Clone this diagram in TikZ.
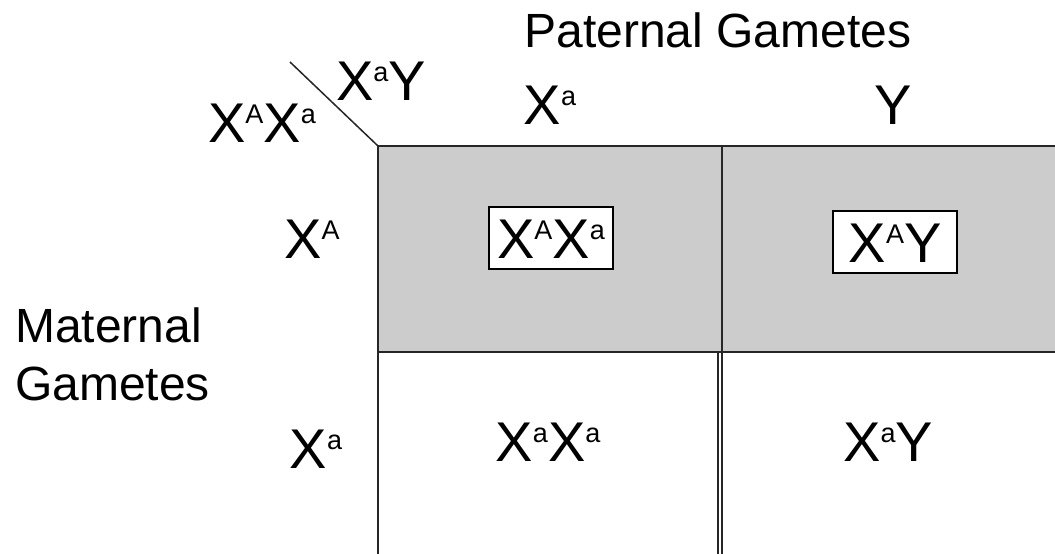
\documentclass[tikz,border=0pt]{standalone}
\usepackage{fontspec}
\setmainfont{Liberation Sans}
\usepackage{tikz}
\usetikzlibrary{calc}
\newcommand{\gsup}[1]{\raisebox{19pt}{\fontsize{27}{27}\selectfont #1}}
\tikzstyle{title} = [font=\fontsize{48}{58}\selectfont, inner sep=0pt, anchor=base]
\tikzstyle{allele} = [font=\fontsize{56}{60}\selectfont, inner sep=0pt, anchor=base]
\tikzstyle{boxed} = [rectangle, draw=black, line width=1.2pt, fill=white, font=\fontsize{56}{60}\selectfont, minimum width=124pt, minimum height=62pt, inner sep=0pt, text height=40pt, text depth=0pt]
\tikzstyle{grid} = [line width=2pt, black!85]
\begin{document}
\begin{tikzpicture}[x=1pt, y=-1pt]
  \useasboundingbox (0,0) rectangle (1055,554);
  % shaded first row
  \fill [black!20] (378,146) rectangle (1055,352);
  \coordinate (corner) at (378,146);
  \coordinate (slash) at (290,62);
  \draw [grid] (corner) -- (1055,146);
  \draw [grid] (corner) -- (378,554);
  \draw [grid] (378,352) -- (1055,352);
  \draw [grid] (722,146) -- (722,554);
  \draw [line width=1.5pt, black!85] (718,352) -- (718,554);
  \draw [line width=1.5pt, black!85] (slash) -- (corner);
  % headings
  \node (paternal) [title] at (718,47) {Paternal Gametes};
  \node (maternal) [title, anchor=base west, align=left] at (15,400) {Maternal\\[-0.1pt]Gametes};
  \node (father) [allele] at (381,100) {X\gsup{a}Y};
  \node (mother) [allele] at (262,142) {X\gsup{A}X\gsup{a}};
  \node (colXa) [allele] at (550,124) {X\gsup{a}};
  \node (colY) [allele] at (893,124) {Y};
  \node (rowXA) [allele] at (312,258) {X\gsup{A}};
  \node (rowXa) [allele] at (316,468) {X\gsup{a}};
  % offspring
  \node (XAXa) [boxed] at (551,238) {X\gsup{A}X\gsup{a}};
  \node (XAY) [boxed] at (895,242) {X\gsup{A}Y};
  \node (XaXa) [allele] at (548,461) {X\gsup{a}X\gsup{a}};
  \node (XaY) [allele] at (888,461) {X\gsup{a}Y};
\end{tikzpicture}
\end{document}
